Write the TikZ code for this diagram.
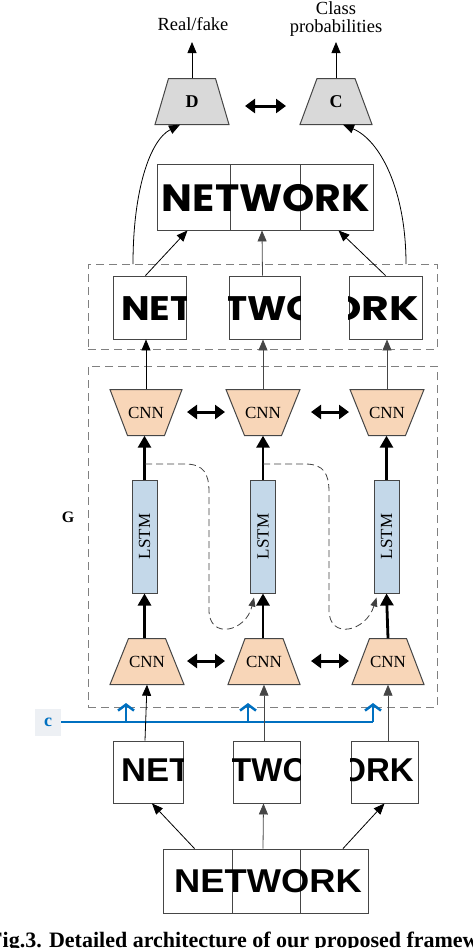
\documentclass[tikz,border=0pt]{standalone}
\usepackage{fontspec}
\setmainfont{Liberation Serif}
\newfontfamily\wordfont{Liberation Sans}
\newfontfamily\decofont{Poppins}
\usetikzlibrary{arrows.meta,calc,positioning}
\definecolor{cnnfill}{RGB}{248,214,184}
\definecolor{lstmfill}{RGB}{196,216,233}
\definecolor{discfill}{RGB}{217,217,217}
\definecolor{edgegray}{RGB}{70,70,70}
\definecolor{cblue}{RGB}{0,112,192}
\definecolor{cback}{RGB}{237,240,244}
% trapezoid: style, name, centre, top half width, bottom half width, text
\newcommand{\trapnode}[6]{%
  \draw[#1] ($(#3)+(-#4,-23)$) -- ($(#3)+(#4,-23)$) -- ($(#3)+(#5,23)$) -- ($(#3)+(-#5,23)$) -- cycle;
  \node[inner sep=0pt, minimum height=46pt, minimum width=2pt] (#2) at (#3) {#6};}
\begin{document}
\begin{tikzpicture}[x=1pt,y=-1pt,
  cnn/.style={draw=edgegray, line width=1pt, fill=cnnfill},
  disc/.style={cnn, fill=discfill},
  lstm/.style={draw=edgegray, line width=1pt, fill=lstmfill, minimum width=25pt,
    minimum height=113pt, inner sep=0pt},
  cell/.style={draw=edgegray, line width=0.9pt, inner sep=0pt},
  grp/.style={draw=gray, line width=1pt, dash pattern=on 8pt off 5pt, inner sep=0pt},
  thin/.style={-{Triangle[length=11pt,width=9pt]}, line width=0.8pt},
  thick/.style={-{Triangle[length=12pt,width=13pt]}, line width=2.8pt},
  dbl/.style={{Triangle[length=10pt,width=14pt]}-{Triangle[length=10pt,width=14pt]}, line width=3pt},
  fb/.style={-{Triangle[length=9pt,width=7pt]}, line width=0.8pt, draw=black!75,
    dash pattern=on 7pt off 4pt},
  cline/.style={draw=cblue, line width=2.5pt},
  carr/.style={cline, -{Straight Barb[length=6pt,width=16pt]}},
  deco/.style={inner sep=0pt, font=\decofont\bfseries\fontsize{34}{34}\selectfont},
  sans/.style={inner sep=0pt, font=\wordfont\bfseries\fontsize{33}{33}\selectfont}]
\useasboundingbox (0,0) rectangle (472,948);
\def\cnntxt{\fontsize{17}{17}\selectfont CNN}
% discriminator and classifier
\trapnode{disc}{D}{192,101.5}{23.5}{37}{\bfseries\fontsize{18}{18}\selectfont D}
\trapnode{disc}{C}{336,101.5}{19}{36}{\bfseries\fontsize{18}{18}\selectfont C}
\node[font=\fontsize{18.5}{18}\selectfont] (rf) at (193,24) {Real/fake};
\node[font=\fontsize{18.5}{18}\selectfont, align=center] (cp) at (336,19) {Class\\probabilities};
\draw[thin] (D.north) -- (D.north |- 0,42);
\draw[thin] (C.north) -- (C.north |- 0,42);
\draw[dbl] (245,106) -- (286,106);
% generated word
\node[cell, minimum width=73pt, minimum height=66pt] (t1) at (193.5,197) {};
\node[cell, minimum width=70pt, minimum height=66pt] (t2) at (265,197) {};
\node[cell, minimum width=73pt, minimum height=66pt] (t3) at (336.5,197) {};
\node[deco, font=\decofont\bfseries\fontsize{38}{38}\selectfont] (tword) at (266,198)
  {\scalebox{1.08}[1]{NETWORK}};
% generated pieces
\node[grp, minimum width=349pt, minimum height=85pt] (gout) at (262.5,306.5) {};
\node[cell, minimum width=73pt, minimum height=63pt] (s1) at (149.5,307.5) {};
\node[cell, minimum width=71pt, minimum height=63pt] (s2) at (264.5,307.5) {};
\node[cell, minimum width=73pt, minimum height=63pt] (s3) at (385.5,307.5) {};
\begin{scope}
\clip (s1.south west) rectangle (s1.north east);
\node[deco, anchor=west] (sw1) at (121,309) {\scalebox{1.12}[1]{NET}};
\end{scope}
\begin{scope}
\clip (s2.south west) rectangle (s2.north east);
\node[deco, anchor=west] (sw2) at (225,309) {\scalebox{1.1}[1]{TWO}};
\end{scope}
\begin{scope}
\clip (s3.south west) rectangle (s3.north east);
\node[deco, anchor=east] (sw3) at (419,309) {\scalebox{1.25}[1]{ORK}};
\end{scope}
\draw[thin] ($(s1.north)+(-4,0)$) -- ($(t1.south)+(-6,0)$);
\draw[thin, draw=edgegray] ($(s2.north)+(-2,0)$) -- ($(t2.south)+(-3,0)$);
\draw[thin] (s3.north) -- ($(t3.south)+(2,0)$);
\coordinate (lft) at (133,264);
\coordinate (rgt) at (406,264);
\draw[thin] (lft) .. controls (133,190) and (150,140) .. ($(D.south)+(-12,0)$);
\draw[thin] (rgt) .. controls (406,190) and (380,140) .. ($(C.south)+(7,0)$);
% generator
\node[grp, minimum width=349pt, minimum height=341pt] (G) at (262.5,536.5) {};
\node[font=\bfseries\fontsize{16}{16}\selectfont] (glab) at (68,517) {G};
\trapnode{cnn}{ct1}{146,412.5}{36}{18.5}{\cnntxt}
\trapnode{cnn}{ct2}{263,412.5}{37}{18.5}{\cnntxt}
\trapnode{cnn}{ct3}{387,412.5}{37}{18.5}{\cnntxt}
\node[lstm] (l1) at (144.5,536.5) {\rotatebox{90}{\fontsize{17}{17}\selectfont LSTM}};
\node[lstm] (l2) at (263,536.5) {\rotatebox{90}{\fontsize{17}{17}\selectfont LSTM}};
\node[lstm] (l3) at (386.5,536.5) {\rotatebox{90}{\fontsize{17}{17}\selectfont LSTM}};
\trapnode{cnn}{cb1}{147,661.5}{18.5}{37}{\cnntxt}
\trapnode{cnn}{cb2}{264,661.5}{19}{36}{\cnntxt}
\trapnode{cnn}{cb3}{388,661.5}{18.5}{36}{\cnntxt}
\draw[thin] (ct1.north) -- (ct1.north |- s1.south);
\draw[thin, draw=edgegray] (ct2.north) -- (ct2.north |- s2.south);
\draw[thin, draw=edgegray] (ct3.north) -- (ct3.north |- s3.south);
\draw[dbl] (187,412) -- (225,412);
\draw[dbl] (311,412) -- (349,412);
\draw[dbl] (187,661) -- (225,661);
\draw[dbl] (311,661) -- (349,661);
\draw[thick] (l1.north) -- (ct1.south -| l1.north);
\draw[thick] (l2.north) -- (ct2.south);
\draw[thick] (l3.north) -- (ct3.south -| l3.north);
\draw[thick] (cb1.north -| l1.south) -- (l1.south);
\draw[thick] (cb2.north -| l2.south) -- (l2.south);
\draw[thick] (cb3.north) -- (l3.south);
\coordinate (h1) at (145,464);
\coordinate (h2) at (263,464);
\draw[fb] (h1) -- (185,464) .. controls (204,464) and (209,474) .. (209,492) -- (209,610)
  .. controls (209,640) and (246,632) .. ($(l2.south)+(-9,4)$);
\draw[fb] (h2) -- (305,464) .. controls (324,464) and (329,474) .. (329,492) -- (329,610)
  .. controls (329,640) and (366,632) .. ($(l3.south)+(-10,4)$);
% condition
\node[fill=cback, minimum width=26pt, minimum height=27pt, inner sep=0pt,
  text=cblue, font=\bfseries\fontsize{18}{18}\selectfont] (clab) at (48,722) {c};
\coordinate (cj1) at (126,722);
\coordinate (cj2) at (248,722);
\coordinate (cj3) at (373,722);
\draw[cline] (clab.east) -- (cj3);
\draw[carr] (cj1) -- (cj1 |- 0,703);
\draw[carr] (cj2) -- (cj2 |- 0,703);
\draw[carr] (cj3) -- (cj3 |- 0,703);
% input pieces
\node[cell, minimum width=70pt, minimum height=62pt] (n1) at (148,772) {};
\node[cell, minimum width=67pt, minimum height=62pt] (n2) at (266.5,772) {};
\node[cell, minimum width=67pt, minimum height=62pt] (n3) at (384.5,772) {};
\begin{scope}
\clip (n1.south west) rectangle (n1.north east);
\node[sans, anchor=west] (nw1) at (121,770) {\scalebox{1.05}[1]{NET}};
\end{scope}
\begin{scope}
\clip (n2.south west) rectangle (n2.north east);
\node[sans, anchor=west] (nw2) at (231,770) {TWO};
\end{scope}
\begin{scope}
\clip (n3.south west) rectangle (n3.north east);
\node[sans, anchor=east] (nw3) at (414,770) {ORK};
\end{scope}
\draw[thin] (n1.north -| 145,0) -- (cb1.south);
\draw[thin, draw=edgegray] (n2.north -| cb2.south) -- (cb2.south);
\draw[thin, draw=edgegray] (n3.north -| cb3.south) -- (cb3.south);
% input word
\node[cell, minimum width=69pt, minimum height=64pt] (b1) at (197.5,881) {};
\node[cell, minimum width=68pt, minimum height=64pt] (b2) at (266,881) {};
\node[cell, minimum width=68pt, minimum height=64pt] (b3) at (334,881) {};
\node[sans] (bword) at (268,881) {\scalebox{1.1}[1]{NETWORK}};
\draw[thin] ($(b1.north)+(-3,0)$) -- ($(n1.south)+(4,0)$);
\draw[thin, draw=edgegray] ($(b2.north)+(-3,0)$) -- ($(n2.south)+(-3,0)$);
\draw[thin] ($(b3.north)+(9,0)$) -- (n3.south);
% caption
\node[anchor=base west, inner sep=0pt, font=\bfseries\fontsize{22}{22}\selectfont] (cap) at (-11,947)
  {Fig.3. Detailed architecture of our proposed framework};
\end{tikzpicture}
\end{document}
